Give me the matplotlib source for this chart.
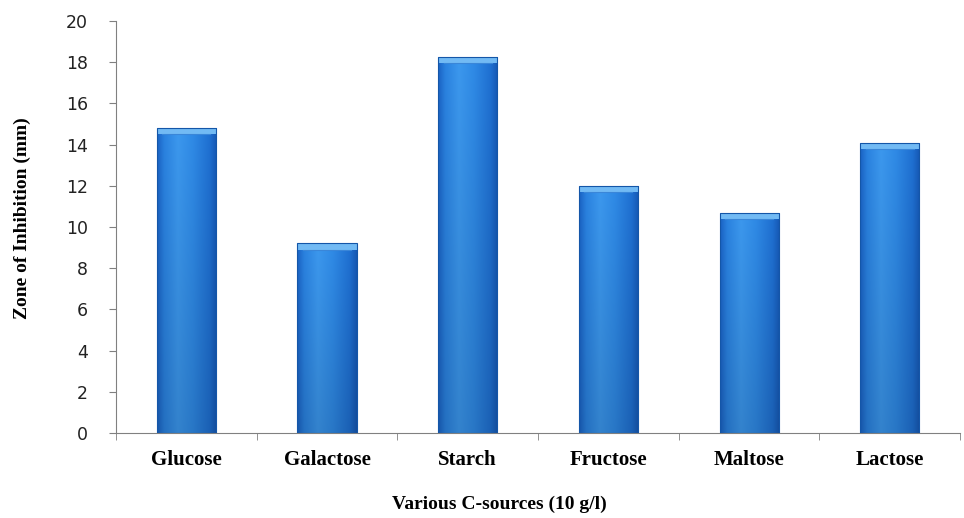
import numpy as np
import matplotlib
matplotlib.use('Agg')
from matplotlib import pyplot as plt
from matplotlib.colors import to_rgb
from matplotlib.patches import Rectangle

sources = ['Glucose', 'Galactose', 'Starch', 'Fructose', 'Maltose', 'Lactose']
zone = [14.8, 9.2, 18.25, 12.0, 10.7, 14.1]
yticks = [0, 2, 4, 6, 8, 10, 12, 14, 16, 18, 20]

fig = plt.figure(figsize=(9.64, 5.18), dpi=100)
ax = fig.add_axes([0.1203, 0.164, 0.8757, 0.7955])

xpos = np.arange(len(sources))
width = 0.42
bars = ax.bar(xpos, zone, width, color='none', edgecolor='#1456a8', linewidth=0.8, zorder=3)

# cylinder-ish shading: horizontal profile, a bit darker toward the bottom
stops = np.array([0.0, 0.12, 0.35, 0.6, 0.88, 1.0])
cols = np.array([to_rgb(c) for c in ['#1a62c4', '#2a82e0', '#3c98ee', '#2f8ae6', '#1f70d2', '#1658b4']])
u = np.linspace(0, 1, 128)
row = np.stack([np.interp(u, stops, cols[:, k]) for k in range(3)], axis=-1)
v = np.linspace(1, 0, 200)[:, None, None]
img = row[None, :, :] * (0.86 + 0.14 * v)

for b in bars:
    x0 = b.get_x()
    h = b.get_height()
    im = ax.imshow(img, aspect='auto', extent=[x0, x0 + width, 0, h], zorder=2, interpolation='bilinear')
    im.set_clip_path(b)
    cap = Rectangle((x0, h - 0.3), width, 0.3, facecolor='#72baf4', edgecolor='none', zorder=2.5)
    ax.add_patch(cap)
    ax.plot([x0 + 0.04, x0 + width - 0.04], [h - 0.3, h - 0.3], color='#3a86d8', lw=0.8, zorder=2.6)

ax.set_xlim(-0.5, len(sources) - 0.5)
ax.set_ylim(0, 20)
ax.set_yticks(yticks)
ax.set_xticks(xpos)
ax.set_xticklabels(sources, fontfamily='Liberation Serif', fontweight='bold', fontsize=15)
ax.set_xticks(np.arange(-0.5, len(sources)), minor=True)
ax.tick_params(axis='x', which='major', length=0, pad=12)
ax.tick_params(axis='x', which='minor', length=5, color='#808080', direction='out')
ax.tick_params(axis='y', length=5, color='#808080', labelsize=12.5, pad=15, labelcolor='#222222')
for lab in ax.get_yticklabels():
    lab.set_fontfamily('DejaVu Sans')

for s in ['top', 'right']:
    ax.spines[s].set_visible(False)
for s in ['left', 'bottom']:
    ax.spines[s].set_color('#808080')

ax.set_xlabel('Various C-sources (10 g/l)', fontfamily='Liberation Serif', fontweight='bold', fontsize=14)
ax.xaxis.set_label_coords(0.454, -0.152)
ax.set_ylabel('Zone of Inhibition (mm)', fontfamily='Liberation Serif', fontweight='bold', fontsize=14)
ax.yaxis.set_label_coords(-0.101, 0.522)

fig.savefig('out.png', dpi=100)
